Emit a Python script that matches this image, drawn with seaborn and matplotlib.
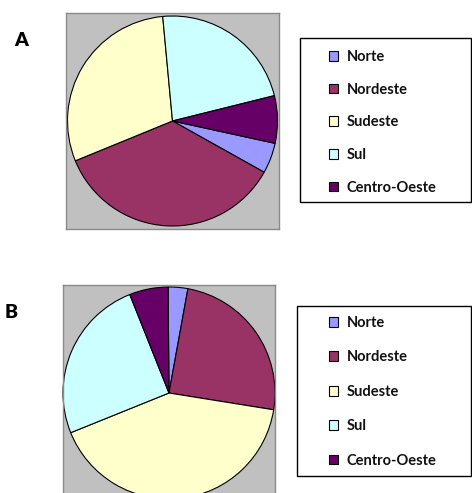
import matplotlib
matplotlib.use('Agg')
import matplotlib.pyplot as plt
import seaborn as sns

sns.set_theme(style='white')
plt.rcParams['font.family'] = ['Lato', 'DejaVu Sans']

# regions (legend order) and share of each pie, in percent
regions = ['Norte', 'Nordeste', 'Sudeste', 'Sul', 'Centro-Oeste']
share_a = [4.7, 35.7, 29.7, 22.6, 7.3]
share_b = [3.0, 24.7, 41.4, 25.1, 5.9]
colors = ['#9999FF', '#993366', '#FFFFCC', '#CCFFFF', '#660066']

W, H = 472, 493
fig = plt.figure(figsize=(W / 100, H / 100), dpi=100)


def px_axes(x0, y0, x1, y1):
    # axes from pixel box (top-left origin)
    return fig.add_axes([x0 / W, 1 - y1 / H, (x1 - x0) / W, (y1 - y0) / H])


def draw_pie(ax, values, start, r_px, box_w, box_h):
    wedges, _ = ax.pie(values, colors=colors, startangle=start, counterclock=False,
                       radius=1.0, wedgeprops=dict(edgecolor='black', linewidth=0.8))
    ax.set_xlim(-box_w / 2 / r_px, box_w / 2 / r_px)
    ax.set_ylim(-box_h / 2 / r_px, box_h / 2 / r_px)
    ax.set_aspect('auto')
    ax.set_frame_on(True)
    ax.set_facecolor('#C0C0C0')
    ax.set_xticks([])
    ax.set_yticks([])
    for s in ax.spines.values():
        s.set_visible(True)
        s.set_color('#8A8A8A')
        s.set_linewidth(1.0)
    return wedges


def draw_legend(wedges, x0, y0, x1, y1, top_entry, spacing):
    frame = plt.Rectangle((x0 / W, 1 - y1 / H), (x1 - x0) / W, (y1 - y0) / H,
                          transform=fig.transFigure, fill=False, edgecolor='black',
                          linewidth=1.0)
    fig.add_artist(frame)
    leg = fig.legend(wedges, regions, loc='upper left',
                     bbox_to_anchor=(329 / W, 1 - top_entry / H),
                     frameon=False, borderpad=0, borderaxespad=0,
                     handlelength=0.65, handleheight=0.65, handletextpad=0.55,
                     labelspacing=spacing,
                     prop=dict(size=10.5, weight='bold'))
    for t in leg.get_texts():
        t.set_color('#111111')
    return leg


# chart A
ax_a = px_axes(66, 13, 279, 229)
wa = draw_pie(ax_a, share_a, -12.3, 105, 213, 216)
draw_legend(wa, 300, 38, 471, 202, 50, 1.28)
fig.text(21 / W, 1 - 40 / H, 'A', fontsize=14, weight='heavy', color='black',
         ha='center', va='center')

# chart B
ax_b = px_axes(63, 285, 275, 501)
wb = draw_pie(ax_b, share_b, 90.5, 106, 212, 216)
draw_legend(wb, 297, 306, 471, 476, 316, 1.4)
fig.text(11 / W, 1 - 312 / H, 'B', fontsize=14, weight='heavy', color='black',
         ha='center', va='center')

fig.savefig('out.png', dpi=100)
